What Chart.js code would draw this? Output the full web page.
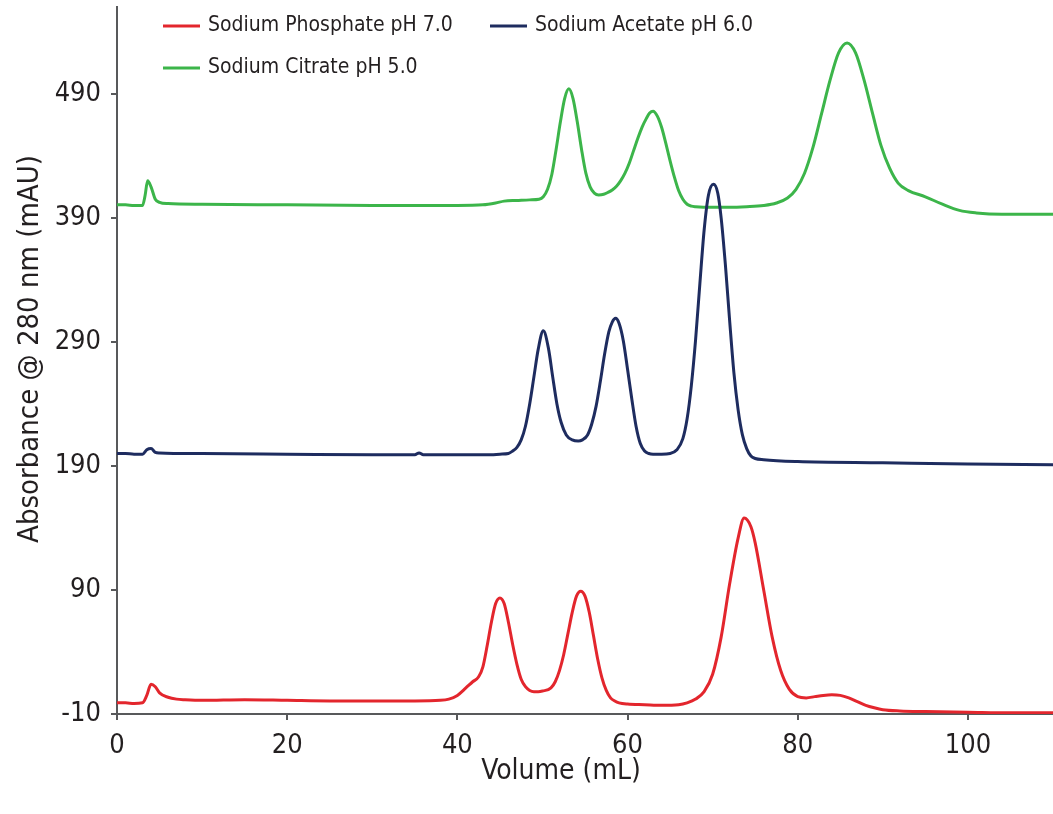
<!DOCTYPE html>
<html lang="en">
<head>
<meta charset="UTF-8">
<title>Absorbance vs Volume</title>
<script src="https://cdn.jsdelivr.net/npm/chart.js"></script>
<style>
  body { margin: 0; background: #fff; }
  #wrap { position: relative; width: 1053px; height: 814px; }
</style>
</head>
<body>
<div id="wrap"><canvas id="chrom"></canvas></div>
<script>
// Sodium Phosphate pH 7.0 trace (volume mL, absorbance mAU)
const phosphateVol = [0, 1, 2, 3, 3.5, 4, 4.5, 5, 6, 7, 8, 10, 15, 20, 25, 30, 35, 38, 39, 40, 41, 41.8, 42.5, 43, 43.5, 44, 44.5, 45, 45.5, 46, 46.5, 47, 47.5, 48, 48.5, 49, 49.5, 50, 51, 51.5, 52, 52.5, 53, 53.5, 54, 54.5, 55, 55.5, 56, 56.5, 57, 57.5, 58, 58.5, 59, 60, 62, 64, 66, 67, 68, 69, 70, 71, 72, 73, 73.7, 74.5, 75, 76, 77, 78, 79, 80, 81, 82, 83, 84, 85, 86, 87, 88, 89, 90, 92, 95, 100, 105, 110];
const phosphateAbs = [-1, -1, -1.5, -1, 5, 14, 12, 7, 3.5, 2, 1.5, 1, 1.5, 1, 0.5, 0.5, 0.5, 1, 2, 5, 11, 16, 20, 28, 45, 64, 79, 83.5, 79, 64, 46, 30, 18, 12, 9, 8, 8, 8.5, 11, 16, 25, 38, 55, 72, 85, 89, 85, 72, 53, 34, 19, 9, 3, 0.5, -1, -2, -2.5, -3, -2.5, -1, 2, 8, 22, 52, 95, 132, 148, 141, 128, 90, 52, 25, 10, 4, 3, 4, 5, 5.5, 5, 3, 0, -3, -5, -6.5, -7.5, -8, -8.5, -9, -9];

// Sodium Acetate pH 6.0 trace
const acetateVol = [0, 1, 2, 3, 3.5, 4, 4.5, 5, 10, 20, 30, 35, 35.5, 36, 40, 44, 45, 46, 46.5, 47, 47.5, 48, 48.5, 49, 49.5, 50.1, 50.7, 51.2, 51.7, 52.2, 52.8, 53.5, 54.2, 54.7, 55.3, 55.8, 56.3, 56.8, 57.3, 57.8, 58.2, 58.6, 59, 59.5, 60, 60.5, 61, 61.5, 62, 62.5, 63, 64, 65, 65.8, 66.5, 67, 67.5, 68, 68.5, 69, 69.5, 70.1, 70.6, 71, 71.5, 72, 72.5, 73, 73.5, 74, 74.5, 75, 76, 80, 90, 100, 110];
const acetateAbs = [200, 200, 199.5, 199.5, 203, 204, 201, 200.5, 200, 199.5, 199, 199, 200.5, 199, 199, 199, 199.5, 200, 202, 205, 211, 222, 240, 262, 284, 299, 285, 262, 240, 225, 215, 211, 210, 211, 215, 224, 238, 258, 280, 298, 306, 309, 305, 291, 268, 244, 222, 208, 202, 200, 199.5, 199.5, 200, 203, 212, 228, 255, 292, 337, 380, 408, 417, 410, 390, 352, 307, 265, 235, 215, 204, 198, 196, 195, 193.5, 192.5, 191.5, 191];

// Sodium Citrate pH 5.0 trace
const citrateVol = [0, 1, 2, 3, 3.3, 3.6, 4, 4.5, 5, 6, 10, 20, 30, 40, 43, 44.5, 45.5, 47, 48.5, 49.6, 50.1, 50.6, 51.1, 51.6, 52.1, 52.6, 53.1, 53.6, 54.1, 54.6, 55.1, 55.6, 56.1, 56.6, 57.2, 57.7, 58.2, 58.7, 59.2, 59.7, 60.2, 60.7, 61.2, 61.7, 62.2, 62.6, 63, 63.5, 64, 64.5, 65, 65.5, 66, 66.5, 67, 67.5, 68, 70, 72, 74, 76, 77.5, 78.8, 79.8, 80.8, 81.8, 82.8, 83.8, 84.8, 85.8, 86.8, 87.8, 88.8, 89.8, 90.8, 91.8, 93, 95, 97, 99, 101, 104, 110];
const citrateAbs = [400.5, 400.5, 400, 400, 408, 420, 415, 405, 402.5, 401.5, 401, 400.5, 400, 400, 400.5, 402, 403.5, 404, 404.5, 405, 407, 413, 425, 445, 467, 486, 494, 486, 467, 445, 426, 415, 410, 408.5, 409, 410.5, 412.5, 415.5, 420, 426, 434, 444, 454, 463, 470, 474.5, 476, 472, 463, 450, 436, 423, 412, 405, 401, 399.5, 399, 398.5, 398.5, 399, 400, 402, 406, 413, 426, 447, 474, 501, 523, 531, 523, 501, 474, 448, 430, 418, 412, 407, 401, 396, 394, 393, 393];

const seriesNames = ['Sodium Phosphate pH 7.0', 'Sodium Acetate pH 6.0', 'Sodium Citrate pH 5.0'];
const seriesColors = ['#e3262d', '#1e2c5f', '#3cb54a'];

const xTicks = [0, 20, 40, 60, 80, 100];
const yTicks = [-10, 90, 190, 290, 390, 490];
const xTitle = 'Volume (mL)';
const yTitle = 'Absorbance @ 280 nm (mAU)';

const FONT = '"DejaVu Sans Condensed", "Liberation Sans Narrow", sans-serif';
const INK = '#231f20';
const AXIS = '#58595b';

function toPoints(vol, abs) {
  return vol.map((v, i) => ({ x: v, y: abs[i] }));
}

const traces = [
  toPoints(phosphateVol, phosphateAbs),
  toPoints(acetateVol, acetateAbs),
  toPoints(citrateVol, citrateAbs)
];

// legend is laid out by hand: two items on the first row, one below
const legendSlots = [
  { x: 163, y: 26 },
  { x: 490, y: 26 },
  { x: 163, y: 68 }
];

const legendPlugin = {
  id: 'manualLegend',
  afterDraw(chart) {
    const ctx = chart.ctx;
    ctx.save();
    ctx.font = '21px ' + FONT;
    ctx.textBaseline = 'middle';
    chart.data.datasets.forEach((ds, i) => {
      const slot = legendSlots[i];
      ctx.strokeStyle = ds.borderColor;
      ctx.lineWidth = 3;
      ctx.beginPath();
      ctx.moveTo(slot.x, slot.y);
      ctx.lineTo(slot.x + 37, slot.y);
      ctx.stroke();
      ctx.fillStyle = INK;
      ctx.fillText(ds.label, slot.x + 45, slot.y);
    });
    ctx.restore();
  }
};

// axis titles sit a little off the chart-area centre, so place them directly
const axisTitlePlugin = {
  id: 'axisTitles',
  afterDraw(chart) {
    const ctx = chart.ctx;
    ctx.save();
    ctx.fillStyle = INK;
    ctx.textAlign = 'center';
    ctx.textBaseline = 'middle';
    ctx.font = '28px ' + FONT;
    ctx.fillText(xTitle, 561, 772);
    ctx.translate(30, 349);
    ctx.rotate(-Math.PI / 2);
    ctx.font = '29px ' + FONT;
    ctx.fillText(yTitle, 0, 0);
    ctx.restore();
  }
};

const ctx = document.getElementById('chrom').getContext('2d');
new Chart(ctx, {
  type: 'line',
  data: {
    datasets: traces.map((pts, i) => ({
      label: seriesNames[i],
      data: pts,
      borderColor: seriesColors[i],
      backgroundColor: seriesColors[i],
      borderWidth: 3,
      pointRadius: 0,
      fill: false,
      cubicInterpolationMode: 'monotone'
    }))
  },
  options: {
    responsive: true,
    maintainAspectRatio: false,
    animation: false,
    layout: { padding: { top: 7, right: 0, left: 0, bottom: 0 } },
    plugins: {
      legend: { display: false },
      tooltip: { enabled: false }
    },
    scales: {
      x: {
        type: 'linear',
        min: 0,
        max: 110,
        afterBuildTicks: s => { s.ticks = xTicks.map(v => ({ value: v })); },
        afterFit: s => { s.height = 100; s.paddingLeft = 0; s.paddingRight = 0; },
        border: { display: true, color: AXIS, width: 2 },
        grid: { display: true, drawOnChartArea: false, drawTicks: true, tickLength: 6, color: AXIS, lineWidth: 2 },
        ticks: { color: INK, font: { family: FONT, size: 27 }, padding: 10, maxRotation: 0 }
      },
      y: {
        type: 'linear',
        min: -10,
        max: 560,
        afterBuildTicks: s => { s.ticks = yTicks.map(v => ({ value: v })); },
        afterFit: s => { s.width = 117; s.paddingTop = 0; s.paddingBottom = 0; },
        border: { display: true, color: AXIS, width: 2 },
        grid: { display: true, drawOnChartArea: false, drawTicks: true, tickLength: 6, color: AXIS, lineWidth: 2 },
        ticks: { color: INK, font: { family: FONT, size: 27 }, padding: 10 }
      }
    }
  },
  plugins: [legendPlugin, axisTitlePlugin]
});
</script>
</body>
</html>
